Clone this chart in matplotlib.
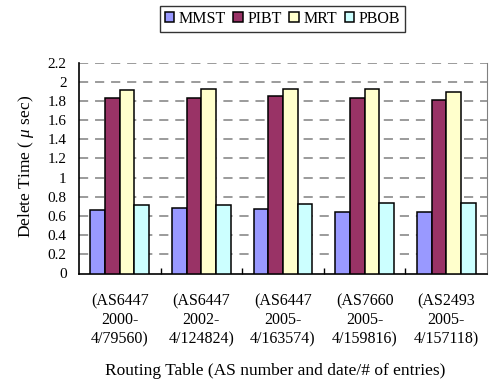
import matplotlib
matplotlib.use("Agg")
import matplotlib.pyplot as plt
import numpy as np

plt.rcParams['font.family'] = ['Liberation Serif', 'DejaVu Serif']
plt.rcParams['mathtext.fontset'] = 'custom'
plt.rcParams['mathtext.it'] = 'Liberation Serif:italic'
plt.rcParams['mathtext.rm'] = 'Liberation Serif'

categories = ["(AS6447\n2000-\n4/79560)", "(AS6447\n2002-\n4/124824)", "(AS6447\n2005-\n4/163574)",
              "(AS7660\n2005-\n4/159816)", "(AS2493\n2005-\n4/157118)"]
series_names = ["MMST", "PIBT", "MRT", "PBOB"]
mmst = [0.66, 0.68, 0.67, 0.64, 0.64]
pibt = [1.83, 1.83, 1.85, 1.83, 1.81]
mrt = [1.91, 1.92, 1.92, 1.92, 1.89]
pbob = [0.71, 0.71, 0.72, 0.74, 0.74]
yticks = [0, 0.2, 0.4, 0.6, 0.8, 1, 1.2, 1.4, 1.6, 1.8, 2, 2.2]
ytick_labels = ["0", "0.2", "0.4", "0.6", "0.8", "1", "1.2", "1.4", "1.6", "1.8", "2", "2.2"]
colors = ["#9999FF", "#993366", "#FFFFCC", "#CCFFFF"]

W, H = 493, 383
fig = plt.figure(figsize=(W / 100, H / 100), dpi=100)
ax = fig.add_axes([79 / W, 1 - 273.5 / H, (487 - 79) / W, (273.5 - 62.5) / H])

x = np.arange(len(categories))
bw = 0.18
data = [mmst, pibt, mrt, pbob]
handles = []
for i, (vals, c, name) in enumerate(zip(data, colors, series_names)):
    b = ax.bar(x + (i - 1.5) * bw, vals, width=bw, color=c, edgecolor='black',
               linewidth=1.1, label=name, zorder=3)
    handles.append(b)

ax.set_xlim(-0.5, len(categories) - 0.5)
ax.set_ylim(0, 2.2)
ax.set_yticks(yticks)
ax.set_yticklabels(ytick_labels, fontsize=11)
for yv in yticks[1:]:
    ax.axhline(yv, color='#808080', lw=1.1, ls=(0, (6, 4.5)), zorder=1)

ax.set_xticks(x)
ax.set_xticklabels(categories, fontsize=11.5, linespacing=1.25)
ax.tick_params(axis='x', which='major', length=0, pad=14)
ax.set_xticks(np.arange(0.5, len(categories) - 0.5, 1), minor=True)
ax.tick_params(axis='x', which='minor', direction='in', length=4, width=1, color='black')
ax.tick_params(axis='y', length=0, pad=9)

ax.spines['top'].set_visible(False)
ax.spines['right'].set_color('#808080')
ax.spines['left'].set_linewidth(1.2)
ax.spines['bottom'].set_linewidth(1.2)

fig.text(26 / W, 1 - 166 / H, r"Delete Time ( $\mathit{\mu}$ sec)", rotation=90,
         ha='center', va='center', fontsize=12.5)
fig.text(275 / W, 1 - 371 / H, "Routing Table (AS number and date/# of entries)",
         ha='center', va='center', fontsize=12.5)

leg = fig.legend(handles=handles, labels=series_names, loc='center',
                 bbox_to_anchor=(282.5 / W, 1 - 19 / H), ncol=4, fontsize=11.5,
                 frameon=True, fancybox=False, shadow=False, edgecolor='black',
                 handlelength=0.6, handleheight=0.6, handletextpad=0.3,
                 columnspacing=0.45, borderpad=0.3, borderaxespad=0)
leg.get_frame().set_linewidth(1.0)

fig.savefig("out.png", dpi=100)
